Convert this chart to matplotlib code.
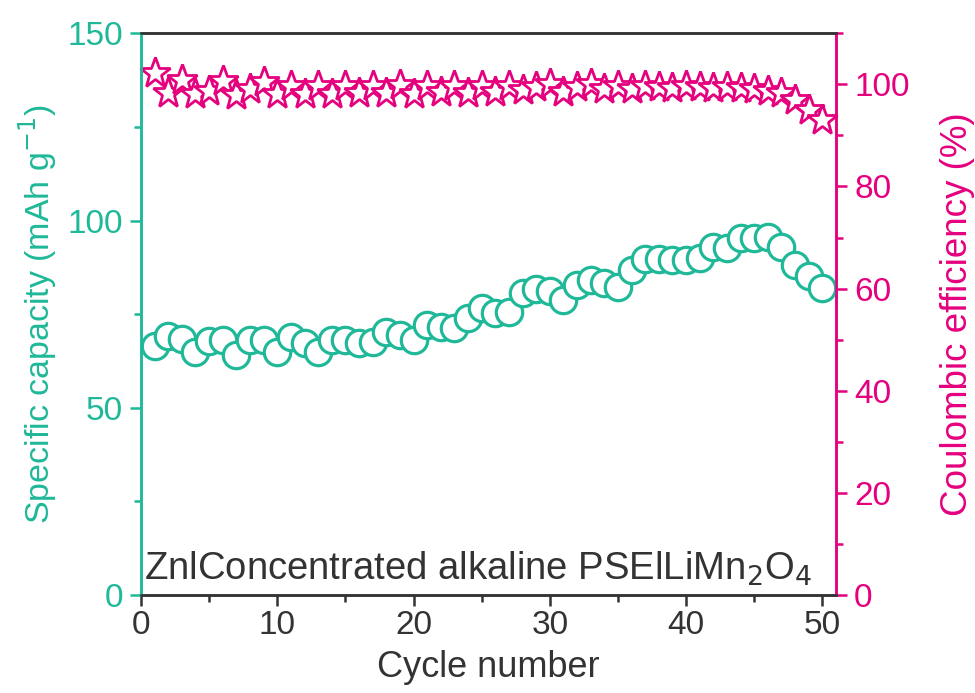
import matplotlib
matplotlib.use("Agg")
import matplotlib.pyplot as plt
from matplotlib.ticker import MultipleLocator

plt.rcParams["font.family"] = ["Liberation Sans", "DejaVu Sans"]

TEAL = "#1fb898"
MAGENTA = "#e5007e"
DARK = "#333333"

cycles = list(range(1, 51))
capacity = [66.5, 69.2, 68.4, 65.0, 67.8, 68.0, 64.2, 68.0, 68.0, 65.0,
            68.8, 67.4, 65.0, 68.0, 68.0, 67.3, 67.6, 70.2, 69.5, 68.2,
            72.0, 71.6, 71.3, 74.0, 76.7, 75.2, 75.5, 80.6, 81.8, 81.3,
            78.7, 82.7, 84.0, 83.3, 82.2, 86.7, 89.8, 89.6, 89.4, 89.4,
            90.0, 92.8, 92.6, 95.3, 95.3, 95.5, 93.0, 88.0, 85.3, 81.9]
efficiency = [102.2, 98.3, 100.8, 98.2, 98.6, 100.6, 98.0, 99.0, 100.4, 98.2,
              99.6, 98.1, 99.6, 98.2, 99.6, 98.4, 99.6, 98.3, 99.8, 98.2,
              99.6, 98.5, 99.7, 98.4, 99.6, 98.5, 99.6, 98.8, 99.5, 100.1,
              98.5, 99.4, 100.1, 99.0, 99.6, 99.1, 99.7, 99.5, 99.2, 99.6,
              99.5, 99.2, 99.5, 99.2, 99.1, 98.7, 98.4, 96.9, 95.0, 93.0]

fig = plt.figure(figsize=(9.75, 6.93), dpi=100)
ax = fig.add_axes([0.1446, 0.1414, 0.7128, 0.8106])
ax2 = ax.twinx()

# circles sit above the stars' twin axis
ax.set_zorder(ax2.get_zorder() + 1)
ax.patch.set_visible(False)

# one call per point so each later marker covers the previous one
for x, y in zip(cycles, capacity):
    ax.plot(x, y, "o", ms=19, mfc="white", mec=TEAL, mew=2.3, clip_on=False)
for x, y in zip(cycles, efficiency):
    ax2.plot(x, y, "*", ms=23, mfc="white", mec=MAGENTA, mew=2.0, clip_on=False)

ax.set_xlim(0, 51)
ax.set_ylim(0, 150)
ax2.set_ylim(0, 110)

ax.xaxis.set_major_locator(MultipleLocator(10))
ax.xaxis.set_minor_locator(MultipleLocator(5))
ax.yaxis.set_major_locator(MultipleLocator(50))
ax.yaxis.set_minor_locator(MultipleLocator(25))
ax2.yaxis.set_major_locator(MultipleLocator(20))
ax2.yaxis.set_minor_locator(MultipleLocator(10))

for a in (ax, ax2):
    for s in a.spines.values():
        s.set_linewidth(1.8)
    a.spines["top"].set_color(DARK)
    a.spines["bottom"].set_color(DARK)
    a.spines["left"].set_color(TEAL)
    a.spines["right"].set_color(MAGENTA)

ax.tick_params(axis="x", which="major", direction="out", length=8, width=1.8,
               color=DARK, labelcolor=DARK, labelsize=24, pad=3)
ax.tick_params(axis="x", which="minor", direction="out", length=5, width=1.8, color=DARK)
ax.tick_params(axis="y", which="major", direction="out", length=8, width=1.8,
               color=TEAL, labelcolor=TEAL, labelsize=24, pad=5)
ax.tick_params(axis="y", which="minor", direction="out", length=5, width=1.8, color=TEAL)
ax2.tick_params(axis="y", which="major", direction="out", length=8, width=1.8,
                color=MAGENTA, labelcolor=MAGENTA, labelsize=24, pad=5)
ax2.tick_params(axis="y", which="minor", direction="out", length=5, width=1.8, color=MAGENTA)

ax.set_xlabel("Cycle number", fontsize=26, color=DARK, labelpad=6)
ax.set_ylabel("Specific capacity (mAh g$^{-1}$)", fontsize=24.5, color=TEAL, labelpad=6)
ax2.set_ylabel("Coulombic efficiency (%)", fontsize=26.5, color=MAGENTA, labelpad=22)

ax.text(0.004, 0.012, "ZnlConcentrated alkaline PSElLiMn$_2$O$_4$",
        transform=ax.transAxes, fontsize=27.5, color=DARK, ha="left", va="bottom")

fig.savefig("out.png", dpi=100)
